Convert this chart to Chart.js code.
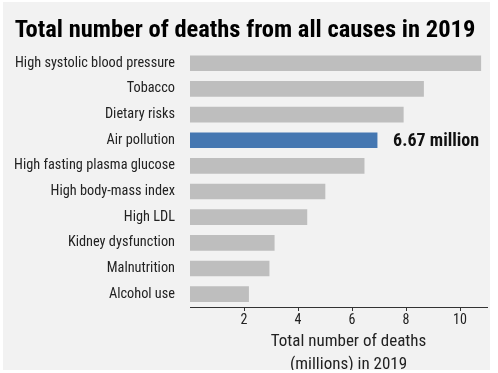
<!DOCTYPE html>
<html>
<head>
<meta charset="utf-8">
<script src="https://cdn.jsdelivr.net/npm/chart.js@4.4.0/dist/chart.umd.min.js"></script>
<style>
  html, body { margin: 0; padding: 0; background: #fff; }
  #box { position: absolute; left: 3px; top: 2px; width: 487px; height: 368px; background: #f2f2f2; }
</style>
</head>
<body>
<div id="box"><canvas id="deathsChart" width="487" height="368"></canvas></div>
<script>
// risk factors, top to bottom
const A_causes = [
    "High systolic blood pressure",
    "Tobacco",
    "Dietary risks",
    "Air pollution",
    "High fasting plasma glucose",
    "High body-mass index",
    "High LDL",
    "Kidney dysfunction",
    "Malnutrition",
    "Alcohol use"
];
// deaths in millions
const A_deaths = [10.77, 8.65, 7.9, 6.93, 6.45, 5.0, 4.33, 3.12, 2.93, 2.17];
const A_xTicks = [2, 4, 6, 8, 10];
const S_highlight = "Air pollution";
const S_highlightLabel = "6.67 million";
const A_axisTitle = ["Total number of deaths", "(millions) in 2019"];

const S_font = "'Liberation Sans Narrow', 'Roboto Condensed', 'Liberation Sans', sans-serif";

const A_barColors = A_causes.map(c => c === S_highlight ? "#4577b1" : "#bebebe");

// writes the value next to the highlighted bar and the two-line axis title
const extrasPlugin = {
    id: "extras",
    afterDraw(chart) {
        const ctx = chart.ctx;
        const area = chart.chartArea;
        const i = A_causes.indexOf(S_highlight);
        const bar = chart.getDatasetMeta(0).data[i];
        ctx.save();
        ctx.fillStyle = "#111";
        ctx.font = "bold 18px " + S_font;
        ctx.textAlign = "left";
        ctx.textBaseline = "middle";
        ctx.fillText(S_highlightLabel, bar.x + 16, bar.y + 1);

        ctx.font = "17px " + S_font;
        ctx.fillStyle = "#222";
        ctx.textAlign = "center";
        const cx = (area.left + area.right) / 2 + 10;
        ctx.fillText(A_axisTitle[0], cx, area.bottom + 35);
        ctx.fillText(A_axisTitle[1], cx, area.bottom + 58);
        ctx.restore();
    }
};

new Chart("deathsChart", {
    type: "bar",
    data: {
        labels: A_causes,
        datasets: [{
            data: A_deaths,
            backgroundColor: A_barColors,
            barThickness: 15
        }]
    },
    options: {
        indexAxis: "y",
        responsive: false,
        animation: false,
        layout: { padding: { left: 0, right: 3, top: 0, bottom: 0 } },
        plugins: {
            legend: { display: false },
            tooltip: { enabled: false },
            title: {
                display: true,
                text: "Total number of deaths from all causes in 2019",
                color: "#000",
                font: { family: S_font, size: 24.5, weight: "bold", lineHeight: 1.2 },
                padding: { top: 14, bottom: 5 }
            }
        },
        scales: {
            x: {
                min: 0,
                max: 11,
                afterBuildTicks(scale) {
                    scale.ticks = A_xTicks.map(v => ({ value: v }));
                },
                afterFit(scale) { scale.height = 63; },
                grid: { drawOnChartArea: false, drawTicks: true, tickLength: 4, color: "#333" },
                border: { display: true, color: "#333", width: 1 },
                ticks: { color: "#222", font: { family: S_font, size: 14 }, padding: 1 }
            },
            y: {
                afterFit(scale) { scale.width = 187; },
                grid: { display: false },
                border: { display: false },
                ticks: { color: "#222", font: { family: S_font, size: 14.3 }, padding: 7 }
            }
        }
    },
    plugins: [extrasPlugin]
});
</script>
</body>
</html>
